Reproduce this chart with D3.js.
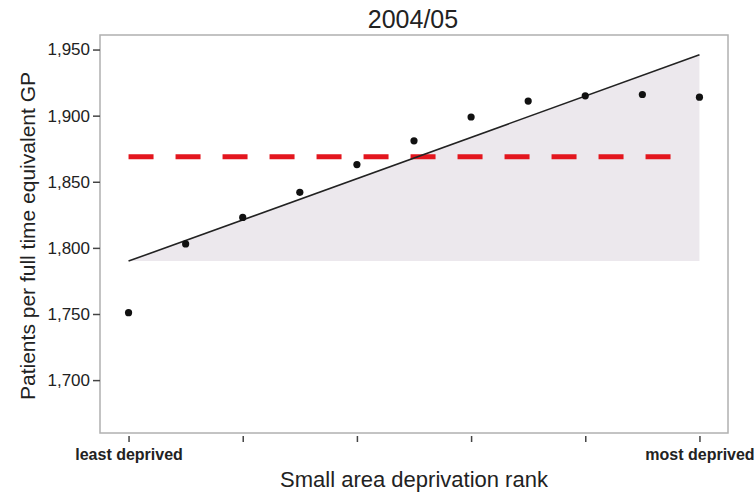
<!DOCTYPE html>
<html>
<head>
<meta charset="utf-8">
<script src="https://cdn.jsdelivr.net/npm/d3@7"></script>
<style>
  body { margin: 0; background: #fff; }
  text { font-family: "Liberation Sans", Arial, sans-serif; fill: #222; }
</style>
</head>
<body>
<div id="graph"></div>
<script>
// decile rank 0 (least deprived) .. 10 (most deprived)
var ranks = [0, 1, 2, 3, 4, 5, 6, 7, 8, 9, 10]
var patients = [1751, 1803, 1823, 1842, 1863, 1881, 1899, 1911, 1915, 1916, 1914]

var trendRank = [0, 10]
var trendVal = [1790, 1946]
var trendBase = 1790

var meanVal = 1869
var meanRank = [0, 9.7]

var yTicks = [1700, 1750, 1800, 1850, 1900, 1950]
var xTicks = [0, 2, 4, 6, 8, 10]
var xTickLabels = {0: 'least deprived', 10: 'most deprived'}

var width = 754, height = 492
var margin = {left: 100, top: 35, right: 26, bottom: 59}
var w = width - margin.left - margin.right
var h = height - margin.top - margin.bottom

var svg = d3.select('#graph').append('svg')
  .attr('width', width).attr('height', height)

var g = svg.append('g').attr('transform', `translate(${margin.left},${margin.top})`)

var x = d3.scaleLinear().domain([-0.5, 10.5]).range([0, w])
var y = d3.scaleLinear().domain([1660, 1961]).range([h, 0])

// shaded area under trend line
var trend = trendRank.map((r, i) => ({r, v: trendVal[i]}))
g.append('path')
  .attr('d', d3.area().x(d => x(d.r)).y0(y(trendBase)).y1(d => y(d.v))(trend))
  .attr('fill', '#ece8ed')

// frame
g.append('rect')
  .attr('width', w).attr('height', h)
  .attr('fill', 'none').attr('stroke', '#b0b0b0').attr('stroke-width', 1.5)

// y axis
var yAxis = g.append('g')
  .call(d3.axisLeft(y).tickValues(yTicks).tickFormat(d3.format(',')).tickSize(7).tickPadding(3))
yAxis.select('.domain').remove()
yAxis.selectAll('.tick line').attr('stroke', '#444').attr('stroke-width', 1.5)
yAxis.selectAll('.tick text').style('font-size', '17px').attr('fill', '#222')

// x axis
var xAxis = g.append('g').attr('transform', `translate(0,${h + 3})`)
  .call(d3.axisBottom(x).tickValues(xTicks).tickFormat(d => xTickLabels[d] || '').tickSize(6).tickPadding(7))
xAxis.select('.domain').remove()
xAxis.selectAll('.tick line').attr('stroke', '#444').attr('stroke-width', 1.5)
xAxis.selectAll('.tick text')
  .style('font-size', '16px')
  .style('font-family', '"Liberation Sans Narrow", "Liberation Sans", Arial, sans-serif')
  .style('font-weight', 'bold')
  .attr('fill', '#333')

// mean dashed line
g.append('line')
  .attr('x1', x(meanRank[0])).attr('x2', x(meanRank[1]))
  .attr('y1', y(meanVal)).attr('y2', y(meanVal))
  .attr('stroke', '#e3161e').attr('stroke-width', 5)
  .attr('stroke-dasharray', '25 22')

// trend line
g.append('path')
  .attr('d', d3.line().x(d => x(d.r)).y(d => y(d.v))(trend))
  .attr('fill', 'none').attr('stroke', '#222').attr('stroke-width', 1.6)

// points
g.selectAll('circle.pt').data(ranks).join('circle')
  .attr('class', 'pt')
  .attr('cx', d => x(d)).attr('cy', (d, i) => y(patients[i]))
  .attr('r', 3.6).attr('fill', '#111')

// titles
svg.append('text')
  .text('2004/05')
  .attr('x', 413).attr('y', 28)
  .attr('text-anchor', 'middle').style('font-size', '25px')

svg.append('text')
  .text('Small area deprivation rank')
  .attr('x', 414).attr('y', 487)
  .attr('text-anchor', 'middle').style('font-size', '22px')

svg.append('text')
  .text('Patients per full time equivalent GP')
  .attr('transform', `translate(35,236) rotate(-90)`)
  .attr('text-anchor', 'middle').style('font-size', '21px')
</script>
</body>
</html>
